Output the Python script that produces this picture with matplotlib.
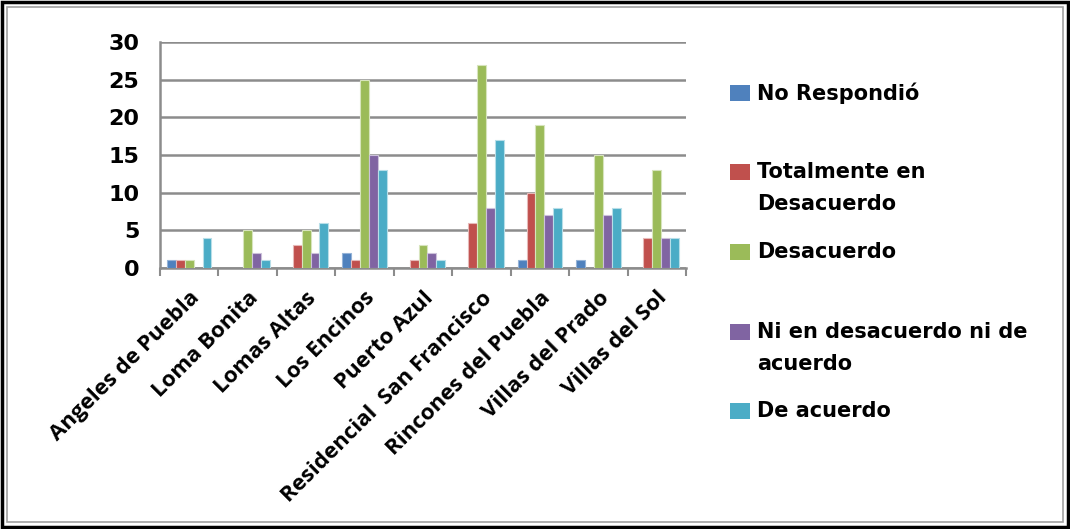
import numpy as np
import matplotlib.pyplot as plt
from matplotlib.patches import Rectangle

barrios = ['Angeles de Puebla', 'Loma Bonita', 'Lomas Altas', 'Los Encinos', 'Puerto Azul',
           'Residencial  San Francisco', 'Rincones del Puebla', 'Villas del Prado', 'Villas del Sol']
series = ['No Respondió', 'Totalmente en\nDesacuerdo', 'Desacuerdo',
          'Ni en desacuerdo ni de\nacuerdo', 'De acuerdo']
no_respondio = [1, 0, 0, 2, 0, 0, 1, 1, 0]
totalmente_desacuerdo = [1, 0, 3, 1, 1, 6, 10, 0, 4]
desacuerdo = [1, 5, 5, 25, 3, 27, 19, 15, 13]
ni_ni = [0, 2, 2, 15, 2, 8, 7, 7, 4]
de_acuerdo = [4, 1, 6, 13, 1, 17, 8, 8, 4]
colores = ['#4F81BD', '#C0504D', '#9BBB59', '#8064A2', '#4BACC6']
bordes = ['#95B3D7', '#E6B9B8', '#D7E4BD', '#CCC1DA', '#B7DEE8']

valores = [no_respondio, totalmente_desacuerdo, desacuerdo, ni_ni, de_acuerdo]

W, H = 1070, 529
fig = plt.figure(figsize=(W / 100, H / 100), dpi=100)
ax = fig.add_axes([160 / W, 1 - 268 / H, 526 / W, 226 / H])

x = np.arange(len(barrios))
ancho = 0.152
for i, (vals, c, b) in enumerate(zip(valores, colores, bordes)):
    # sin borde en las barras de valor 0
    ec = [b if v > 0 else 'none' for v in vals]
    ax.bar(x + (i - 2) * ancho, vals, ancho, color=c, edgecolor=ec, linewidth=0.8, zorder=3)

ax.set_xlim(-0.5, len(barrios) - 0.5)
ax.set_ylim(0, 30)
ax.set_yticks(range(0, 31, 5))
ax.set_yticklabels([str(v) for v in range(0, 31, 5)], fontsize=16, fontweight='bold',
                   family='DejaVu Sans')
ax.yaxis.grid(True, color='#8C8C8C', linewidth=1.8, zorder=0)
ax.tick_params(axis='y', length=0, pad=15)

ax.set_xticks(np.arange(len(barrios) + 1) - 0.5, minor=True)
ax.set_xticks(x)
ax.set_xticklabels(barrios, rotation=45, ha='right', rotation_mode='anchor',
                   fontsize=16, fontweight='bold', family='Open Sans')
ax.tick_params(axis='x', which='major', length=0, pad=14)
ax.tick_params(axis='x', which='minor', length=6, width=1.5, color='#8C8C8C')

for s in ['top', 'right']:
    ax.spines[s].set_visible(False)
for s in ['left', 'bottom']:
    ax.spines[s].set_color('#8C8C8C')
    ax.spines[s].set_linewidth(1.8)

# leyenda manual (y del centro de la primera linea de cada entrada)
pos_y = [93, 172, 252, 332, 411]
for lab, c, y in zip(series, colores, pos_y):
    fig.patches.append(Rectangle((730 / W, 1 - (y + 8) / H), 20 / W, 16 / H,
                                 transform=fig.transFigure, facecolor=c, edgecolor='none'))
    for k, linea in enumerate(lab.split('\n')):
        fig.text(757 / W, 1 - (y + 32 * k) / H, linea, fontsize=15, fontweight='bold',
                 family='DejaVu Sans', va='center', ha='left')

# marco doble
fig.patches.append(Rectangle((2 / W, 2 / H), 1066 / W, 525 / H, transform=fig.transFigure,
                             fill=False, edgecolor='black', linewidth=2.5))
fig.patches.append(Rectangle((7 / W, 7 / H), 1056 / W, 515 / H, transform=fig.transFigure,
                             fill=False, edgecolor='#A0A0A0', linewidth=1.2))

fig.savefig('out.png', dpi=100)
